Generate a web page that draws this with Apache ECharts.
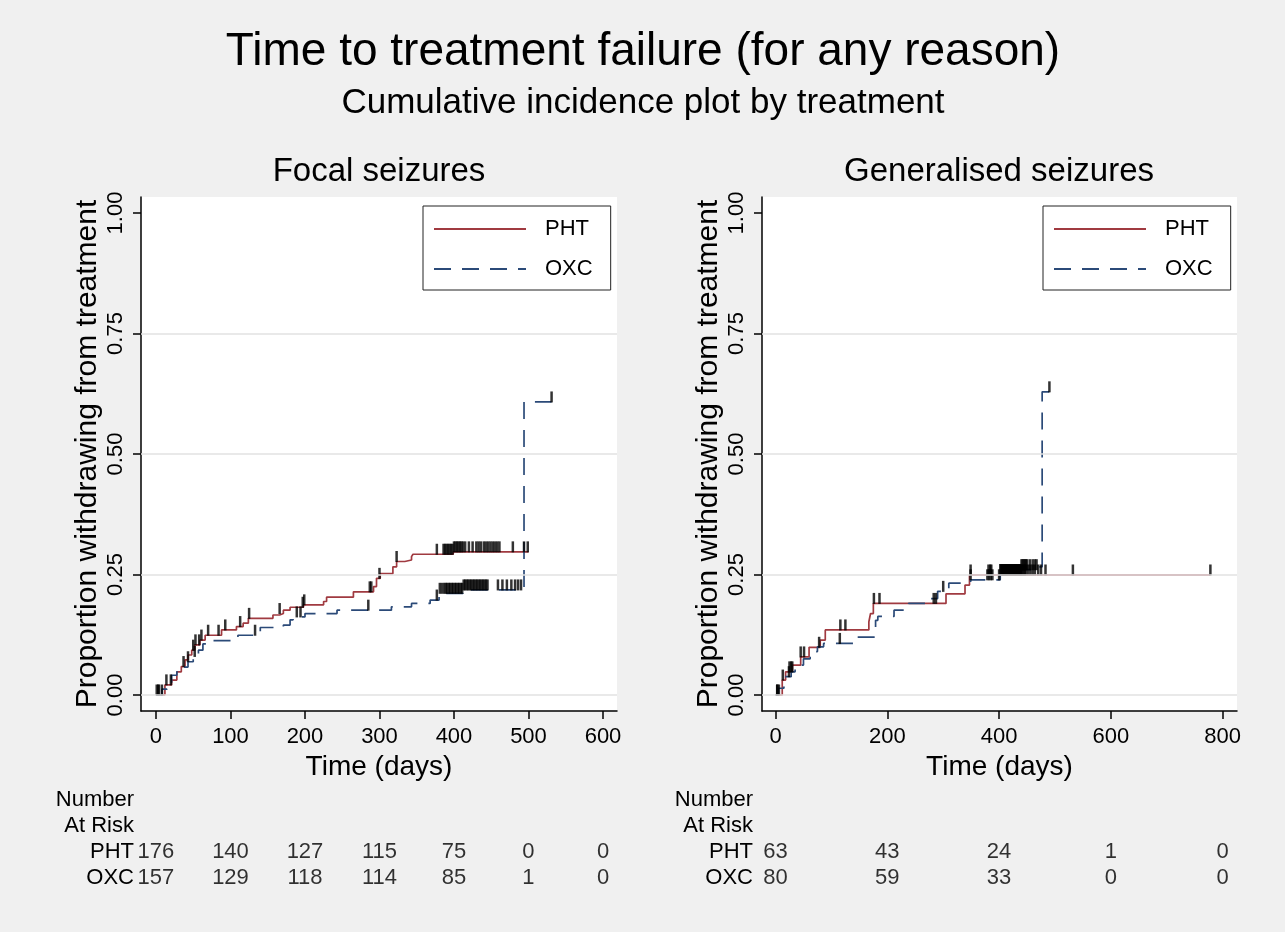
<!DOCTYPE html>
<html>
<head>
<meta charset="utf-8">
<script src="https://cdn.jsdelivr.net/npm/echarts@6/dist/echarts.min.js"></script>
<style>
html,body{margin:0;padding:0;background:#f0f0f0;}
#chart{width:1285px;height:932px;}
</style>
</head>
<body>
<div id="chart"></div>
<script>
// ---------- data ----------
const focalTicks = [0, 100, 200, 300, 400, 500, 600];
const genTicks = [0, 200, 400, 600, 800];
const yTicks = [0, 0.25, 0.5, 0.75, 1];
const gridValues = [0, 0.25, 0.5, 0.75];
const groups = ['PHT', 'OXC'];
const riskRows = ['Number', 'At Risk', 'PHT', 'OXC'];

// step points [day, cumulative incidence from that day on]
const focalPHT = [[0,0],[12,0.021],[21,0.031],[28,0.048],[34,0.059],[39,0.073],[43,0.083],[48,0.093],[52,0.104],[59,0.114],[66,0.124],[88,0.135],[108,0.142],[117,0.149],[124,0.159],[157,0.166],[166,0.169],[171,0.176],[180,0.182],[198,0.187],[225,0.194],[229,0.203],[265,0.214],[292,0.225],[296,0.242],[301,0.252],[318,0.266],[323,0.277],[334,0.28],[343,0.287],[345,0.292],[399,0.297],[500,0.297]];
const focalOXC = [[0,0],[8,0.012],[15,0.025],[21,0.041],[28,0.048],[36,0.058],[43,0.069],[50,0.08],[57,0.093],[63,0.106],[70,0.113],[110,0.124],[140,0.14],[171,0.145],[180,0.156],[184,0.162],[200,0.169],[243,0.176],[316,0.183],[343,0.19],[368,0.197],[380,0.211],[412,0.218],[494,0.608],[531,0.608]];
const genPHT = [[0,0],[12,0.031],[18,0.048],[30,0.062],[45,0.079],[60,0.099],[80,0.114],[89,0.135],[167,0.152],[170,0.169],[175,0.19],[305,0.21],[339,0.228],[347,0.249],[778,0.249]];
const genOXC = [[0,0],[5,0.014],[15,0.038],[28,0.048],[35,0.062],[50,0.075],[62,0.09],[75,0.1],[86,0.107],[146,0.12],[179,0.155],[183,0.163],[212,0.176],[238,0.19],[274,0.2],[290,0.215],[310,0.232],[349,0.239],[402,0.25],[440,0.26],[470,0.266],[477,0.629],[490,0.629]];

// censoring times (days)
const focalPHTCens = [1,4,8,14,20,37,50,53,58,61,70,84,93,113,125,166,197,199,287,289,300,323,377,386,388,390,392,394,396,398,400,402,404,406,408,410,412,415,420,425,430,433,436,440,443,446,449,452,455,458,461,479,494,499];
const focalOXCCens = [3,43,52,133,189,194,285,377,381,384,387,389,391,393,395,397,399,401,403,405,407,409,411,413,415,417,419,421,423,425,427,429,431,433,435,437,439,441,443,445,459,465,471,477,482,486,490,531];
const genPHTCens = [3,6,13,25,28,45,51,78,116,125,176,186,283,287,349,381,384,386,404,406,408,410,412,414,416,418,420,422,424,426,428,430,432,434,436,438,440,442,444,446,448,452,456,460,464,470,475,483,532,778];
const genOXCCens = [3,24,30,115,300,349,379,382,385,388,400,402,404,406,408,410,412,414,416,418,420,422,424,426,428,430,432,434,436,438,440,442,444,446,448,450,455,460,464,467,490];

// numbers at risk
const focalRiskPHT = [176, 140, 127, 115, 75, 0, 0];
const focalRiskOXC = [157, 129, 118, 114, 85, 1, 0];
const genRiskPHT = [63, 43, 24, 1, 0];
const genRiskOXC = [80, 59, 33, 0, 0];

// ---------- helpers ----------
function valueAt(steps, t) {
  let v = 0;
  for (const [d, p] of steps) if (d <= t) v = p;
  return v;
}
const FONT = '"Liberation Sans", Arial, sans-serif';
const RED = '#a03a40';
const BLUE = '#2b4a78';

const focalRange = { min: -20.1, max: 618.8 };
const genRange = { min: -24.2, max: 825.6 };
const yRange = { min: -0.0332, max: 1.0332 };

function xAxisFor(gi, range, ticks) {
  return {
    type: 'value', gridIndex: gi, min: range.min, max: range.max,
    axisLine: { onZero: false, lineStyle: { color: '#000', width: 1.5 } },
    axisTick: { customValues: ticks, length: 8, lineStyle: { color: '#000', width: 1.5 } },
    axisLabel: { customValues: ticks, color: '#000', fontSize: 22, margin: 15, fontFamily: FONT },
    splitLine: { show: false },
    name: 'Time (days)', nameLocation: 'middle', nameGap: 38,
    nameTextStyle: { color: '#000', fontSize: 28, fontFamily: FONT }
  };
}
function yAxisFor(gi) {
  return {
    type: 'value', gridIndex: gi, min: yRange.min, max: yRange.max,
    axisLine: { onZero: false, lineStyle: { color: '#000', width: 1.5 } },
    axisTick: { customValues: yTicks, length: 8, lineStyle: { color: '#000', width: 1.5 } },
    axisLabel: { customValues: yTicks, rotate: 90, color: '#000', fontSize: 22, margin: 14,
      fontFamily: FONT, formatter: v => v.toFixed(2) },
    splitLine: { show: false },
    name: 'Proportion withdrawing from treatment', nameLocation: 'middle', nameGap: 38,
    nameTextStyle: { color: '#000', fontSize: 30, fontFamily: FONT }
  };
}
function tableX(gi, range) {
  return { type: 'value', gridIndex: gi, min: range.min, max: range.max, show: false };
}
function tableY(gi, margin) {
  return {
    type: 'category', gridIndex: gi, data: riskRows, inverse: true,
    axisLine: { show: false }, axisTick: { show: false }, splitLine: { show: false },
    axisLabel: { interval: 0, color: '#000', fontSize: 22, margin: margin, fontFamily: FONT }
  };
}
function stepSeries(name, data, xi, color, dashed) {
  return {
    type: 'line', name: name, xAxisIndex: xi, yAxisIndex: xi, data: data, step: 'end',
    symbol: 'none', z: 3, animation: false,
    lineStyle: { color: color, width: 1.7, type: dashed ? [17, 11] : 'solid' },
    itemStyle: { color: color }
  };
}
function censorSeries(times, steps, xi) {
  return {
    type: 'scatter', name: 'censored', xAxisIndex: xi, yAxisIndex: xi, z: 4, animation: false,
    symbol: 'rect', symbolSize: [2.5, 11], symbolOffset: [0, -5],
    itemStyle: { color: '#000' }, silent: true,
    data: times.map(t => [t, valueAt(steps, t)])
  };
}
function gridLineSeries(xi) {
  return {
    type: 'line', name: 'grid', xAxisIndex: xi, yAxisIndex: xi, data: [], z: 1, silent: true,
    markLine: {
      silent: true, symbol: ['none', 'none'], label: { show: false }, animation: false,
      lineStyle: { color: '#e2e2e2', width: 1.5, type: 'solid' },
      data: gridValues.map(v => ({ yAxis: v }))
    }
  };
}
function riskSeries(ticks, counts, row, xi) {
  return {
    type: 'scatter', name: 'risk', xAxisIndex: xi, yAxisIndex: xi, symbolSize: 0, silent: true,
    animation: false,
    data: ticks.map((t, i) => [t, row, counts[i]]),
    label: { show: true, position: 'inside', color: '#000', fontSize: 22, fontFamily: FONT,
      formatter: p => String(p.data[2]) }
  };
}
function legendFor(left) {
  return {
    data: groups, orient: 'vertical', left: left, top: 206,
    itemWidth: 92, itemHeight: 14, itemGap: 18, padding: [12, 18, 10, 10],
    borderColor: '#222', borderWidth: 1, backgroundColor: '#fff', selectedMode: false,
    itemStyle: { color: 'rgba(0,0,0,0)', borderWidth: 0, borderColor: 'rgba(0,0,0,0)' },
    textStyle: { color: '#000', fontSize: 22, fontFamily: FONT, padding: [0, 0, 0, 14] }
  };
}
function textEl(x, y, text, size) {
  return { type: 'text', x: x, y: y, silent: true,
    style: { text: text, fontSize: size, fontFamily: FONT, fill: '#000', align: 'center', verticalAlign: 'middle' } };
}

const chart = echarts.init(document.getElementById('chart'), null, { renderer: 'canvas' });
chart.setOption({
  backgroundColor: '#f0f0f0',
  animation: false,
  textStyle: { fontFamily: FONT },
  graphic: [
    textEl(643, 52, 'Time to treatment failure (for any reason)', 46),
    textEl(643, 103, 'Cumulative incidence plot by treatment', 35),
    textEl(379, 172, 'Focal seizures', 33),
    textEl(999, 172, 'Generalised seizures', 33)
  ],
  grid: [
    { left: 141, top: 197, width: 476, height: 514, show: true, backgroundColor: '#fff', borderWidth: 0 },
    { left: 762, top: 197, width: 475, height: 514, show: true, backgroundColor: '#fff', borderWidth: 0 },
    { left: 141, top: 787, width: 476, height: 104 },
    { left: 762, top: 787, width: 475, height: 104 }
  ],
  xAxis: [
    xAxisFor(0, focalRange, focalTicks),
    xAxisFor(1, genRange, genTicks),
    tableX(2, focalRange),
    tableX(3, genRange)
  ],
  yAxis: [yAxisFor(0), yAxisFor(1), tableY(2, 7), tableY(3, 9)],
  legend: [legendFor(423), legendFor(1043)],
  series: [
    gridLineSeries(0), gridLineSeries(1),
    stepSeries('PHT', focalPHT, 0, RED, false),
    stepSeries('OXC', focalOXC, 0, BLUE, true),
    stepSeries('PHT', genPHT, 1, RED, false),
    stepSeries('OXC', genOXC, 1, BLUE, true),
    censorSeries(focalPHTCens, focalPHT, 0),
    censorSeries(focalOXCCens, focalOXC, 0),
    censorSeries(genPHTCens, genPHT, 1),
    censorSeries(genOXCCens, genOXC, 1),
    riskSeries(focalTicks, focalRiskPHT, 'PHT', 2),
    riskSeries(focalTicks, focalRiskOXC, 'OXC', 2),
    riskSeries(genTicks, genRiskPHT, 'PHT', 3),
    riskSeries(genTicks, genRiskOXC, 'OXC', 3)
  ]
});
</script>
</body>
</html>
